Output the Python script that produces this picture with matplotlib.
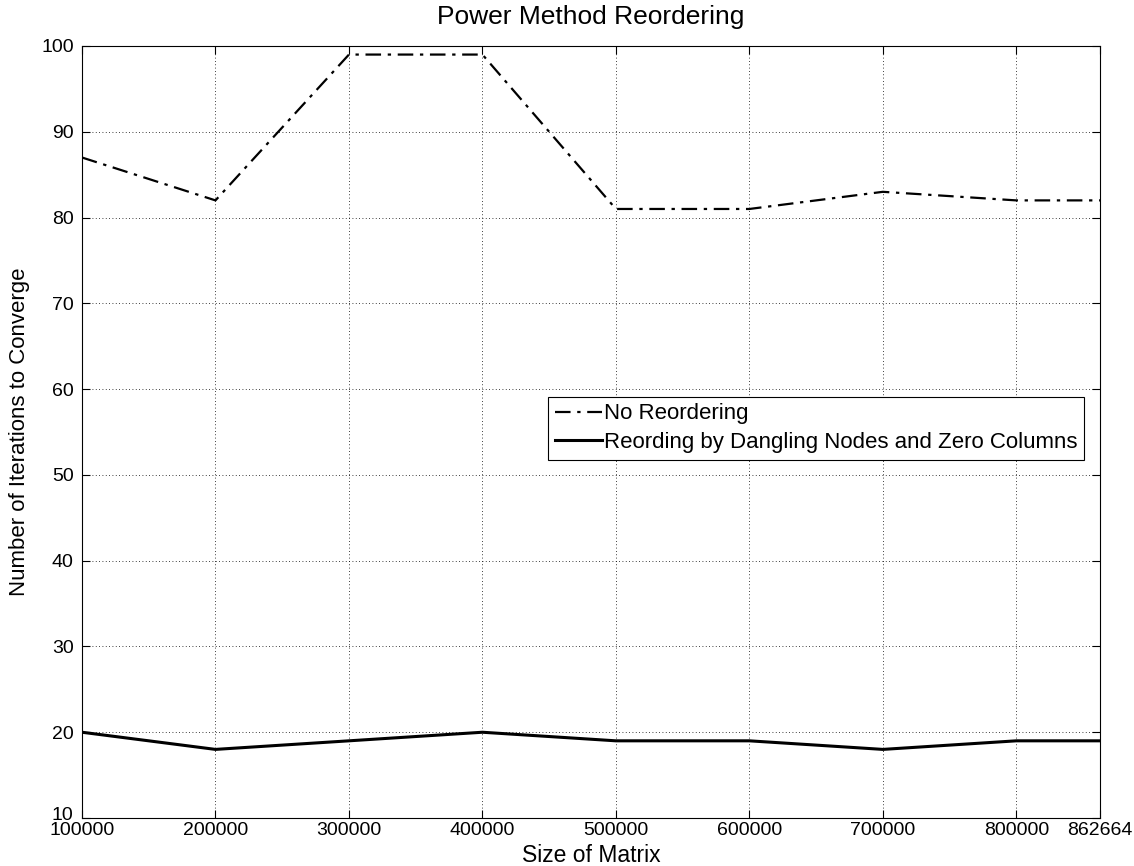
import matplotlib
matplotlib.use("Agg")
import matplotlib.pyplot as plt
import matplotlib.transforms as mtransforms

sizes = [100000, 200000, 300000, 400000, 500000, 600000, 700000, 800000, 862664]
no_reorder = [87, 82, 99, 99, 81, 81, 83, 82, 82]
reorder = [20, 18, 19, 20, 19, 19, 18, 19, 19]
yticks = [10, 20, 30, 40, 50, 60, 70, 80, 90, 100]

plt.rcParams['font.family'] = ['Liberation Sans', 'DejaVu Sans']

fig = plt.figure(figsize=(11.34, 8.66), dpi=100)
ax = fig.add_axes([0.0723, 0.0554, 0.8977, 0.8915])
ax.plot(sizes, no_reorder, color='black', linestyle=(0, (7, 3, 1.5, 3)), linewidth=1.6,
        label='No Reordering')
ax.plot(sizes, reorder, color='black', linestyle='-', linewidth=2.2,
        label='Reording by Dangling Nodes and Zero Columns')

ax.set_xlim(sizes[0], sizes[-1])
ax.set_ylim(10, 100)
ax.set_xticks(sizes)
ax.set_xticklabels([str(s) for s in sizes])
ax.set_yticks(yticks)
ax.tick_params(direction='in', top=True, right=True, labelsize=14, length=6, width=0.8)
ax.tick_params(axis='x', pad=3)
ax.tick_params(axis='y', pad=6)
ax.grid(True, linestyle=(0, (1, 3)), color='black', linewidth=0.6)
for sp in ax.spines.values():
    sp.set_linewidth(0.8)

# lowest y tick label sits slightly raised, as in the reference
lbl = ax.get_yticklabels()[0]
lbl.set_transform(lbl.get_transform() + mtransforms.ScaledTranslation(0, 5 / 100, fig.dpi_scale_trans))

ax.set_title('Power Method Reordering', fontsize=19, pad=16)
ax.set_xlabel('Size of Matrix', fontsize=16.5)
ax.xaxis.set_label_coords(0.5, -0.034, transform=ax.transAxes)
ax.set_ylabel('Number of Iterations to Converge', fontsize=16)
ax.yaxis.set_label_coords(-0.051, 0.5, transform=ax.transAxes)

leg = ax.legend(loc='lower left', bbox_to_anchor=(0.458, 0.464), fontsize=16,
                frameon=True, fancybox=False, edgecolor='black', framealpha=1,
                handlelength=2.1, handletextpad=0.1, borderpad=0.3, labelspacing=0.35,
                borderaxespad=0)
leg.get_frame().set_linewidth(0.8)

fig.savefig('out.png', dpi=100)
